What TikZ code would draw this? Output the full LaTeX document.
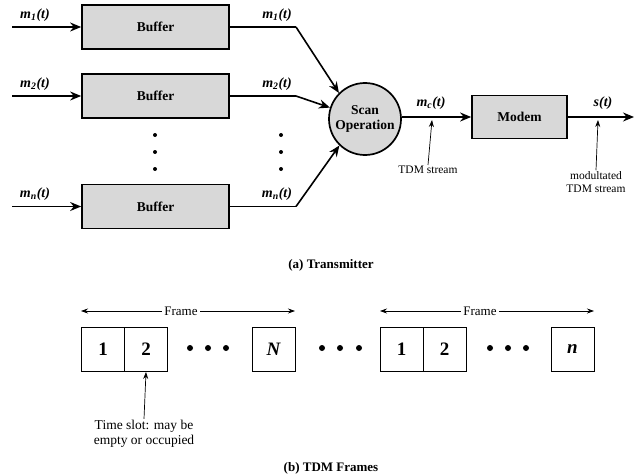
\documentclass[tikz,border=0pt]{standalone}
\usepackage{fontspec}
\setmainfont{Liberation Serif}
\usetikzlibrary{arrows.meta}
\definecolor{boxgray}{RGB}{216,216,216}
\begin{document}
\begin{tikzpicture}[x=1pt,y=-1pt,
  buf/.style={draw, line width=1.7pt, fill=boxgray, minimum width=147pt, minimum height=44pt, inner sep=0pt, font=\bfseries\fontsize{13.5}{15}\selectfont},
  arr/.style={line width=1.6pt, -{Stealth[length=11pt,width=9pt]}},
  plainline/.style={line width=1.6pt},
  lab/.style={font=\bfseries\itshape\fontsize{14}{16}\selectfont, inner sep=0pt},
  note/.style={font=\fontsize{11.5}{13}\selectfont, align=center, inner sep=1pt},
  thinarr/.style={line width=0.7pt, -{Stealth[length=7pt,width=5pt]}},
  slot/.style={draw, line width=0.9pt, minimum width=43pt, minimum height=44pt, inner sep=0pt, font=\bfseries\fontsize{19}{21}\selectfont},
  smalldot/.style={circle, fill, inner sep=0pt, minimum size=4pt},
  bigdot/.style={circle, fill, inner sep=0pt, minimum size=6pt},
  framearr/.style={line width=0.7pt, {Stealth[length=7pt,width=5pt]}-{Stealth[length=7pt,width=5pt]}},
  captext/.style={font=\bfseries\fontsize{13}{15}\selectfont, inner sep=0pt}
]
\useasboundingbox (0,0) rectangle (634,476);

% buffers
\node[buf] (b1) at (155.5,27) {Buffer};
\node[buf] (b2) at (155.5,96) {Buffer};
\node[buf] (bn) at (155.5,206.5) {Buffer};

\coordinate (i1) at (12,27);
\coordinate (i2) at (12,96);
\coordinate (in) at (12,206.5);
\draw[arr] (i1) -- (b1.west);
\draw[arr] (i2) -- (b2.west);
\draw[arr] (in) -- (bn.west);

\node[lab] (l1) at (35,15) {m\textsubscript{1}(t)};
\node[lab] (l2) at (35,84) {m\textsubscript{2}(t)};
\node[lab] (ln) at (35,194) {m\textsubscript{n}(t)};
\node[lab] (r1) at (277,15) {m\textsubscript{1}(t)};
\node[lab] (r2) at (277,84) {m\textsubscript{2}(t)};
\node[lab] (rn) at (277,194) {m\textsubscript{n}(t)};

% dots
\foreach \y [count=\k] in {135,152,169} {
  \node[smalldot] (dl\k) at (155,\y) {};
  \node[smalldot] (dr\k) at (281,\y) {};
}

% scan operation
\node[circle, draw, line width=1.7pt, fill=boxgray, minimum size=72pt, inner sep=0pt, align=center, font=\bfseries\fontsize{13.5}{14.5}\selectfont] (scan) at (365,119) {Scan\\Operation};

\coordinate (k1) at (296,27);
\coordinate (k2) at (296,96);
\coordinate (kn) at (296,206.5);
\draw[plainline] (b1.east) -- (k1);
\draw[plainline] (b2.east) -- (k2);
\draw[plainline] (bn.east) -- (kn);
\draw[arr] (k1) -- (scan.135);
\draw[arr] (k2) -- (scan.162);
\draw[arr] (kn) -- (scan.226);

% modem
\node[buf, minimum width=95pt, minimum height=43pt] (modem) at (519.5,117) {Modem};
\draw[arr] (scan.east |- modem.west) -- (modem.west);
\coordinate (out) at (634,117);
\draw[arr] (modem.east) -- (out);

\node[lab] (mc) at (431,103) {m\textsubscript{c}(t)};
\node[lab] (st) at (603,103) {s(t)};

\coordinate (t1) at (432,120);
\node[note] (tdm) at (428,170) {TDM stream};
\draw[thinarr] (tdm.north) -- (t1);

\coordinate (t2) at (598,120);
\node[note] (mod) at (596,182) {modultated\\TDM stream};
\draw[thinarr] (mod.north) -- (t2);

\node[captext] (capa) at (331,265) {(a) Transmitter};

% TDM frames
\node[slot] (s1) at (103,349.5) {1};
\node[slot] (s2) at (146,349.5) {2};
\node[slot, font=\bfseries\itshape\fontsize{19}{21}\selectfont] (sN) at (273.5,349.5) {N};
\node[slot] (u1) at (401.5,349.5) {1};
\node[slot] (u2) at (444.5,349.5) {2};
\node[slot, font=\bfseries\itshape\fontsize{19}{21}\selectfont] (un) at (572.5,349.5) {n};

\foreach \x [count=\k] in {190,208,226} {\node[bigdot] (da\k) at (\x,348) {};}
\foreach \x [count=\k] in {322,340,359} {\node[bigdot] (db\k) at (\x,348) {};}
\foreach \x [count=\k] in {490,508,526} {\node[bigdot] (dc\k) at (\x,348) {};}

\coordinate (f1a) at (81,311);
\coordinate (f1b) at (295,311);
\coordinate (f2a) at (380,311);
\coordinate (f2b) at (594,311);
\draw[framearr] (f1a) -- (f1b);
\draw[framearr] (f2a) -- (f2b);
\node[fill=white, inner sep=2pt, font=\fontsize{13}{15}\selectfont] (fr1) at (181,311) {Frame};
\node[fill=white, inner sep=2pt, font=\fontsize{13}{15}\selectfont] (fr2) at (480,311) {Frame};

\node[note, font=\fontsize{13.5}{15.5}\selectfont] (ts) at (144,434) {Time slot: may be\\empty or occupied};
\draw[thinarr] (ts.north) -- (s2.south);

\node[captext] (capb) at (331,468) {(b) TDM Frames};
\end{tikzpicture}
\end{document}
